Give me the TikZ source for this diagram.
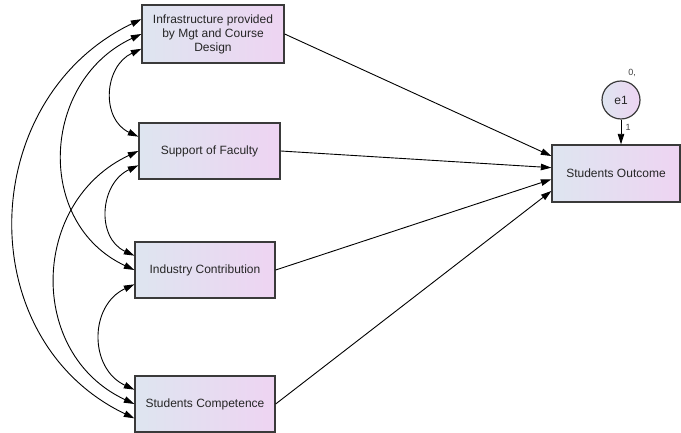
\documentclass[tikz,border=0pt]{standalone}
\usepackage{fontspec}
\setmainfont{Liberation Sans}
\usetikzlibrary{arrows.meta,calc}
\definecolor{boxL}{RGB}{222,229,240}
\definecolor{boxR}{RGB}{238,212,242}
\definecolor{edgec}{RGB}{58,58,58}
\begin{document}
\begin{tikzpicture}[x=1pt,y=1pt,
  var/.style={draw=edgec, line width=1.3pt, left color=boxL, right color=boxR,
    inner sep=0pt, text=black!85, font=\fontsize{12}{14}\selectfont, align=center},
  lat/.style={circle, draw=edgec, line width=1.2pt, left color=boxL, right color=boxR,
    inner sep=0pt, minimum size=38pt, text=black!85, font=\fontsize{12}{14}\selectfont},
  tip/.tip={Triangle[length=10.5pt,width=6.5pt]},
  reg/.style={-tip, line width=0.9pt, black},
  cov/.style={tip-tip, line width=0.9pt, black},
  small/.style={font=\fontsize{9}{10}\selectfont, text=black!75, inner sep=0pt}]
\useasboundingbox (0,0) rectangle (681,433);

% observed variables
\node[var, minimum width=142pt, minimum height=58pt] (infra) at (213,399)
  {Infrastructure provided\\by Mgt and Course\\Design};
\node[var, minimum width=141pt, minimum height=56pt] (support) at (209.5,282) {Support of Faculty};
\node[var, minimum width=140pt, minimum height=56pt] (industry) at (205,163) {Industry Contribution};
\node[var, minimum width=140pt, minimum height=56pt] (comp) at (205,29) {Students Competence};
\node[var, minimum width=128pt, minimum height=57pt] (outcome) at (616,259.5) {Students Outcome};

% error term
\node[lat] (e1) at (621,333) {e1};
\node[small] (lab0) at (632,360) {0,};
\node[small] (lab1) at (628,306) {1};
\draw[reg] (e1.south) -- (e1.south |- outcome.north);

% slots on the left sides
\foreach \n in {infra,support,industry,comp}{
  \coordinate (\n-1) at ($(\n.north west)!0.25!(\n.south west)$);
  \coordinate (\n-2) at ($(\n.north west)!0.5!(\n.south west)$);
  \coordinate (\n-3) at ($(\n.north west)!0.75!(\n.south west)$);
}
% slots on outcome
\coordinate (o1) at ($(outcome.north west)!0.2!(outcome.south west)$);
\coordinate (o2) at ($(outcome.north west)!0.4!(outcome.south west)$);
\coordinate (o3) at ($(outcome.north west)!0.6!(outcome.south west)$);
\coordinate (o4) at ($(outcome.north west)!0.8!(outcome.south west)$);

% regressions
\draw[reg] (infra.east) -- (o1);
\draw[reg] (support.east) -- (o2);
\draw[reg] (industry.east) -- (o3);
\draw[reg] (comp.east) -- (o4);

% covariances
\draw[cov] (infra-1) .. controls +(-165,-79.1) and +(-165,79.1) .. (comp-3);
\draw[cov] (infra-2) .. controls +(-100.2,-46.7) and +(-100.2,46.7) .. (industry-2);
\draw[cov] (infra-3) .. controls +(-37.6,-17.5) and +(-37.6,17.5) .. (support-1);
\draw[cov] (support-2) .. controls +(-107.9,-50.3) and +(-107.9,50.3) .. (comp-2);
\draw[cov] (support-3) .. controls +(-38.6,-18) and +(-38.6,18) .. (industry-1);
\draw[cov] (industry-3) .. controls +(-45.4,-21.2) and +(-45.4,21.2) .. (comp-1);
\end{tikzpicture}
\end{document}
